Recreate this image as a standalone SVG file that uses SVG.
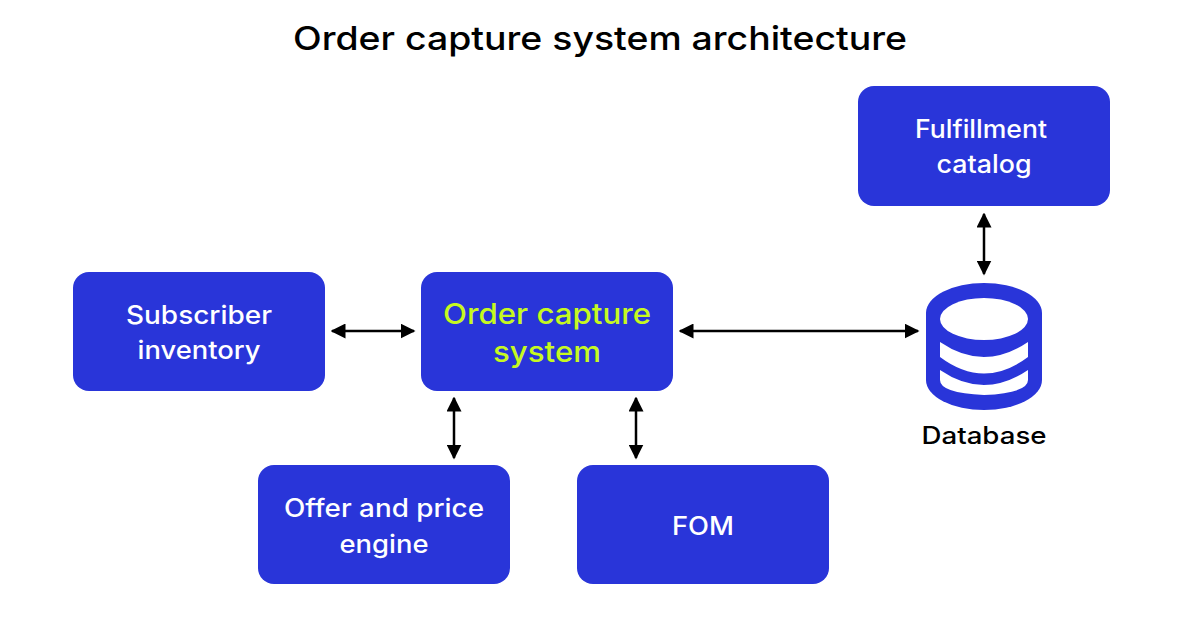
<svg xmlns="http://www.w3.org/2000/svg" width="1200" height="630" viewBox="0 0 1200 630">
<style>
.box{fill:#2935d9}
.t{font-family:Inter,"Liberation Sans",sans-serif;font-size:25px;font-weight:500;fill:#fff;text-anchor:middle}
.g{fill:#c6f91f;font-size:29px}
.c{stroke:#000;stroke-width:2.5;fill:none;marker-start:url(#a);marker-end:url(#a)}
</style>
<defs><marker id="a" viewBox="0 0 10 10" refX="9" refY="5" markerWidth="6" markerHeight="6" orient="auto-start-reverse" markerUnits="strokeWidth"><path d="M0 0L10 5L0 10Z" fill="#000"/></marker></defs>
<rect width="1200" height="630" fill="#fff"/>
<text x="600" y="50" font-family="Inter,'Liberation Sans',sans-serif" font-size="33" font-weight="500" text-anchor="middle" textLength="614" lengthAdjust="spacingAndGlyphs">Order capture system architecture</text>
<g id="connectors">
<line class="c" x1="332" y1="331" x2="414" y2="331"/>
<line class="c" x1="680" y1="331" x2="918" y2="331"/>
<line class="c" x1="984" y1="214" x2="984" y2="274"/>
<line class="c" x1="454" y1="398" x2="454" y2="458"/>
<line class="c" x1="636" y1="398" x2="636" y2="458"/>
</g>
<g id="fulfillment"><rect class="box" x="858" y="86" width="252" height="120" rx="16"/><text class="t" x="981" y="138" textLength="132" lengthAdjust="spacingAndGlyphs">Fulfillment</text><text class="t" x="984" y="173" textLength="95" lengthAdjust="spacingAndGlyphs">catalog</text></g>
<g id="subscriber"><rect class="box" x="73" y="272" width="252" height="119" rx="16"/><text class="t" x="199" y="324" textLength="146" lengthAdjust="spacingAndGlyphs">Subscriber</text><text class="t" x="199" y="359" textLength="123" lengthAdjust="spacingAndGlyphs">inventory</text></g>
<g id="ocs"><rect class="box" x="421" y="272" width="252" height="119" rx="16"/><text class="t g" x="547" y="324" textLength="208" lengthAdjust="spacingAndGlyphs">Order capture</text><text class="t g" x="547" y="362" textLength="108" lengthAdjust="spacingAndGlyphs">system</text></g>
<g id="offer"><rect class="box" x="258" y="465" width="252" height="119" rx="16"/><text class="t" x="384" y="517" textLength="200" lengthAdjust="spacingAndGlyphs">Offer and price</text><text class="t" x="384" y="553" textLength="89" lengthAdjust="spacingAndGlyphs">engine</text></g>
<g id="fom"><rect class="box" x="577" y="465" width="252" height="119" rx="16"/><text class="t" x="703" y="535" textLength="62" lengthAdjust="spacingAndGlyphs">FOM</text></g>
<g id="database">
<path d="M926 313 A58 30 0 0 1 1042 313 L1042 380 A58 30 0 0 1 926 380 Z" fill="#2935d9"/>
<ellipse cx="984" cy="319" rx="44" ry="21" fill="#fff"/>
<path d="M940 342 Q984 372 1028 342 L1028 357 Q984 390 940 357 Z" fill="#fff"/>
<path d="M940 370 Q984 400 1028 370 L1028 380 Q1028 393 984 395 Q940 393 940 380 Z" fill="#fff"/>
<text x="984" y="444" font-family="Inter,'Liberation Sans',sans-serif" font-size="24" font-weight="500" text-anchor="middle" textLength="125" lengthAdjust="spacingAndGlyphs">Database</text>
</g>
</svg>
